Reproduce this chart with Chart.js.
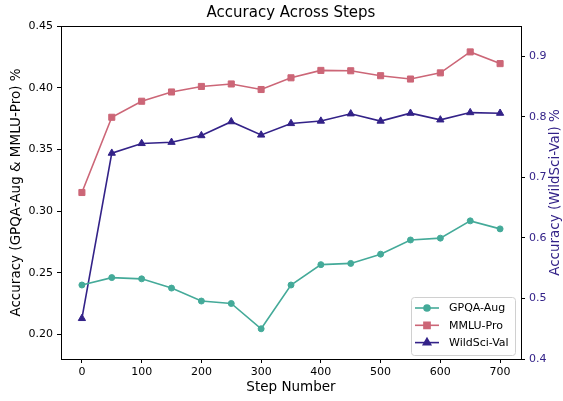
<!DOCTYPE html>
<html>
<head>
<meta charset="utf-8">
<script src="https://cdn.jsdelivr.net/npm/chart.js@4"></script>
<style>
body { margin: 0; background: #fff; }
</style>
</head>
<body>
<canvas id="myChart" width="563" height="401"></canvas>
<script>
var steps = [0, 50, 100, 150, 200, 250, 300, 350, 400, 450, 500, 550, 600, 650, 700]
var gpqa = [0.240, 0.246, 0.245, 0.2375, 0.227, 0.225, 0.2045, 0.240, 0.2565, 0.2575, 0.265, 0.2765, 0.278, 0.292, 0.2855]
var mmlu = [0.315, 0.376, 0.389, 0.3965, 0.401, 0.403, 0.3985, 0.408, 0.414, 0.4137, 0.4097, 0.407, 0.412, 0.429, 0.4195]
var wildsci = [0.467, 0.740, 0.756, 0.758, 0.769, 0.792, 0.770, 0.789, 0.793, 0.805, 0.793, 0.806, 0.795, 0.807, 0.806]
var leftTicks = [0.20, 0.25, 0.30, 0.35, 0.40, 0.45]
var rightTicks = [0.4, 0.5, 0.6, 0.7, 0.8, 0.9]
var xTicks = [0, 100, 200, 300, 400, 500, 600, 700]

var teal = '#44AA99'
var rose = '#CC6677'
var indigo = '#332288'
var font = 'DejaVu Sans'

function pts(ys) {
  return steps.map(function(s, i) { return {x: s, y: ys[i]} })
}

function serie(label, ys, color, style, r, axis) {
  return {
    label: label,
    data: pts(ys),
    borderColor: color,
    backgroundColor: color,
    pointBackgroundColor: color,
    pointBorderColor: color,
    pointStyle: style,
    pointRadius: r,
    pointHoverRadius: r,
    borderWidth: 1.6,
    pointBorderWidth: 1,
    yAxisID: axis
  }
}

var extras = {
  id: 'extras',
  afterDraw: function(chart) {
    var ctx = chart.ctx
    var a = chart.chartArea
    ctx.save()
    // frame
    ctx.strokeStyle = '#000'
    ctx.lineWidth = 1
    ctx.strokeRect(Math.round(a.left) + 0.5, Math.round(a.top) + 0.5, Math.round(a.right - a.left), Math.round(a.bottom - a.top))

    // title
    ctx.fillStyle = '#000'
    ctx.font = '15px "' + font + '"'
    ctx.textAlign = 'center'
    ctx.textBaseline = 'middle'
    ctx.fillText('Accuracy Across Steps', (a.left + a.right) / 2, 13)

    // right axis title
    ctx.save()
    ctx.translate(555, (a.top + a.bottom) / 2)
    ctx.rotate(-Math.PI / 2)
    ctx.fillStyle = indigo
    ctx.font = '13.5px "' + font + '"'
    ctx.fillText('Accuracy (WildSci-Val) %', 0, 0)
    ctx.restore()

    // legend
    var bx = 411.5, by = 297.5, bw = 104, bh = 58
    ctx.fillStyle = 'rgba(255,255,255,0.85)'
    ctx.strokeStyle = '#d0d0d0'
    ctx.beginPath()
    ctx.roundRect(bx, by, bw, bh, 3)
    ctx.fill()
    ctx.stroke()
    ctx.font = '11px "' + font + '"'
    ctx.textAlign = 'left'
    chart.data.datasets.forEach(function(ds, i) {
      var y = 308 + i * 17.3
      ctx.strokeStyle = ds.borderColor
      ctx.lineWidth = 1.6
      ctx.beginPath()
      ctx.moveTo(415, y)
      ctx.lineTo(439, y)
      ctx.stroke()
      ctx.fillStyle = ds.borderColor
      Chart.helpers.drawPoint(ctx, {pointStyle: ds.pointStyle, radius: ds.pointRadius, borderWidth: 1}, 427, y)
      ctx.fillStyle = '#000'
      ctx.fillText(ds.label, 449, y + 0.5)
    })
    ctx.restore()
  }
}

var ctx = document.getElementById('myChart').getContext('2d')
var chart = new Chart(ctx, {
  type: 'line',
  data: {
    datasets: [
      serie('GPQA-Aug', gpqa, teal, 'circle', 3, 'y'),
      serie('MMLU-Pro', mmlu, rose, 'rect', 4.3, 'y'),
      serie('WildSci-Val', wildsci, indigo, 'triangle', 4.2, 'y2')
    ]
  },
  options: {
    responsive: false,
    animation: false,
    layout: { padding: { top: 26, right: 0, left: 0, bottom: 0 } },
    plugins: {
      legend: { display: false },
      title: { display: false },
      tooltip: { enabled: false }
    },
    scales: {
      x: {
        type: 'linear',
        min: -35,
        max: 735,
        afterBuildTicks: function(s) { s.ticks = xTicks.map(function(v) { return {value: v} }) },
        afterFit: function(s) { s.height = 42 },
        grid: { drawOnChartArea: false, drawTicks: true, tickLength: 4, color: '#000' },
        border: { display: true, color: '#000' },
        ticks: { color: '#000', padding: 3, maxRotation: 0, font: { family: font, size: 11 } },
        title: { display: true, text: 'Step Number', color: '#000', padding: 5, font: { family: font, size: 13.5 } }
      },
      y: {
        position: 'left',
        min: 0.18,
        max: 0.45,
        afterBuildTicks: function(s) { s.ticks = leftTicks.map(function(v) { return {value: v} }) },
        afterFit: function(s) { s.width = 61 },
        grid: { drawOnChartArea: false, drawTicks: true, tickLength: 4, color: '#000' },
        border: { display: true, color: '#000' },
        ticks: { color: '#000', padding: 4, font: { family: font, size: 11 }, callback: function(v) { return v.toFixed(2) } },
        title: { display: true, text: 'Accuracy (GPQA-Aug & MMLU-Pro) %', color: '#000', padding: 8, font: { family: font, size: 13.5 } }
      },
      y2: {
        position: 'right',
        min: 0.4,
        max: 0.95,
        afterBuildTicks: function(s) { s.ticks = rightTicks.map(function(v) { return {value: v} }) },
        afterFit: function(s) { s.width = 42 },
        grid: { drawOnChartArea: false, drawTicks: true, tickLength: 4, color: '#000' },
        border: { display: true, color: '#000' },
        ticks: { color: indigo, padding: 4, font: { family: font, size: 11 }, callback: function(v) { return v.toFixed(1) } }
      }
    }
  },
  plugins: [extras]
})
</script>
</body>
</html>
